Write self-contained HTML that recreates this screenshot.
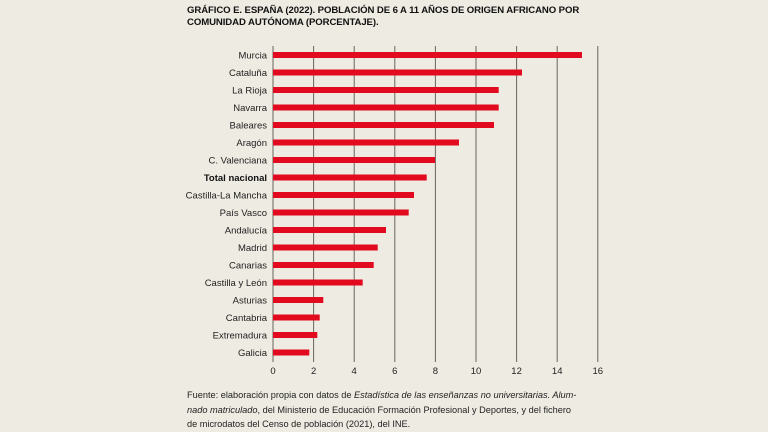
<!DOCTYPE html>
<html><head><meta charset="utf-8"><style>
html,body{margin:0;padding:0;background:#eeebe2;}
body{width:768px;height:432px;overflow:hidden;position:relative;font-family:"Liberation Sans",sans-serif;}
.t{position:absolute;left:187px;top:5px;font-weight:bold;font-size:9.6px;line-height:12px;color:#111;letter-spacing:-0.1px}
.f{position:absolute;left:187px;top:388px;font-size:9.2px;line-height:14.5px;color:#222;width:420px}
</style></head><body>
<div class="t">GRÁFICO E. ESPAÑA (2022). POBLACIÓN DE 6 A 11 AÑOS DE ORIGEN AFRICANO POR<br>COMUNIDAD AUTÓNOMA (PORCENTAJE).</div>
<svg width="768" height="432" style="position:absolute;left:0;top:0" font-family="Liberation Sans, sans-serif">
<g stroke="#6a665e" stroke-width="1">
<line x1="273" y1="46" x2="273" y2="362"/><line x1="313.6" y1="46" x2="313.6" y2="362"/><line x1="354.2" y1="46" x2="354.2" y2="362"/><line x1="394.8" y1="46" x2="394.8" y2="362"/><line x1="435.4" y1="46" x2="435.4" y2="362"/><line x1="476" y1="46" x2="476" y2="362"/><line x1="516.6" y1="46" x2="516.6" y2="362"/><line x1="557.2" y1="46" x2="557.2" y2="362"/><line x1="597.8" y1="46" x2="597.8" y2="362"/>
</g>
<g fill="#e10a1e">
<rect x="273" y="52" width="309" height="6"/>
<rect x="273" y="69.5" width="249" height="6"/>
<rect x="273" y="87" width="225.7" height="6"/>
<rect x="273" y="104.5" width="225.7" height="6"/>
<rect x="273" y="122" width="221" height="6"/>
<rect x="273" y="139.5" width="186" height="6"/>
<rect x="273" y="157" width="162" height="6"/>
<rect x="273" y="174.5" width="153.7" height="6"/>
<rect x="273" y="192" width="141" height="6"/>
<rect x="273" y="209.5" width="135.7" height="6"/>
<rect x="273" y="227" width="113" height="6"/>
<rect x="273" y="244.5" width="104.7" height="6"/>
<rect x="273" y="262" width="100.7" height="6"/>
<rect x="273" y="279.5" width="89.7" height="6"/>
<rect x="273" y="297" width="50.3" height="6"/>
<rect x="273" y="314.5" width="46.7" height="6"/>
<rect x="273" y="332" width="44.3" height="6"/>
<rect x="273" y="349.5" width="36.3" height="6"/>
</g>
<g font-size="9.5" fill="#222" text-anchor="end">
<text x="267" y="58.5">Murcia</text>
<text x="267" y="76">Cataluña</text>
<text x="267" y="93.5">La Rioja</text>
<text x="267" y="111">Navarra</text>
<text x="267" y="128.5">Baleares</text>
<text x="267" y="146">Aragón</text>
<text x="267" y="163.5">C. Valenciana</text>
<text x="267" y="181" font-weight="bold" fill="#111">Total nacional</text>
<text x="267" y="198.5">Castilla-La Mancha</text>
<text x="267" y="216">País Vasco</text>
<text x="267" y="233.5">Andalucía</text>
<text x="267" y="251">Madrid</text>
<text x="267" y="268.5">Canarias</text>
<text x="267" y="286">Castilla y León</text>
<text x="267" y="303.5">Asturias</text>
<text x="267" y="321">Cantabria</text>
<text x="267" y="338.5">Extremadura</text>
<text x="267" y="356">Galicia</text>
</g>
<g font-size="9.5" fill="#222" text-anchor="middle">
<text x="273" y="374">0</text><text x="313.6" y="374">2</text><text x="354.2" y="374">4</text><text x="394.8" y="374">6</text><text x="435.4" y="374">8</text><text x="476" y="374">10</text><text x="516.6" y="374">12</text><text x="557.2" y="374">14</text><text x="597.8" y="374">16</text>
</g>
</svg>
<div class="f">Fuente: elaboración propia con datos de <i>Estadística de las enseñanzas no universitarias. Alum-<br>nado matriculado</i>, del Ministerio de Educación Formación Profesional y Deportes, y del fichero<br>de microdatos del Censo de población (2021), del INE.</div>
</body></html>
